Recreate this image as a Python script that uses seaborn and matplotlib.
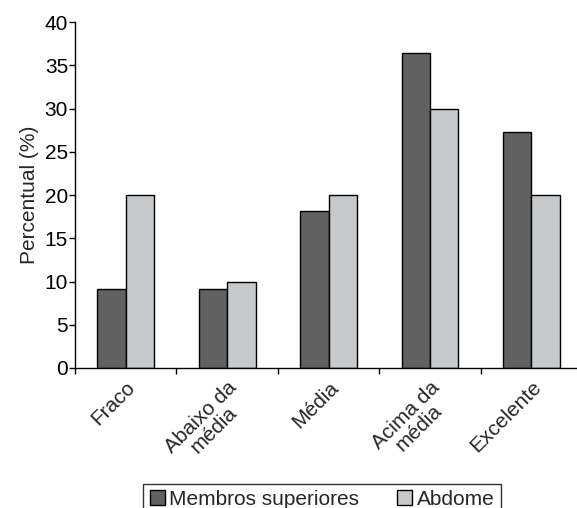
import pandas as pd
import matplotlib
matplotlib.use("Agg")
import matplotlib.pyplot as plt
import seaborn as sns

categorias = ["Fraco", "Abaixo da\nmédia", "Média", "Acima da\nmédia", "Excelente"]
membros_superiores = [9.1, 9.1, 18.2, 36.4, 27.3]
abdome = [20.0, 10.0, 20.0, 30.0, 20.0]
series = ["Membros superiores", "Abdome"]
cores = ["#616161", "#c8c9cb"]

df = pd.DataFrame({
    "Categoria": categorias * 2,
    "Grupo": [series[0]] * len(categorias) + [series[1]] * len(categorias),
    "Valor": membros_superiores + abdome,
})

sns.set_style("ticks")
plt.rcParams["font.family"] = ["Liberation Sans", "DejaVu Sans"]

fig = plt.figure(figsize=(5.77, 5.08), dpi=100)
ax = fig.add_axes([0.130, 0.2756, 0.879, 0.681])

sns.barplot(data=df, x="Categoria", y="Valor", hue="Grupo", order=categorias,
            hue_order=series, palette=cores, width=0.56, edgecolor="black",
            linewidth=1.0, saturation=1, ax=ax)

ax.set_xlim(-0.5, len(categorias) - 0.5)
ax.set_ylim(0, 40)
ax.set_yticks(range(0, 41, 5))
ax.tick_params(axis="y", labelsize=15, length=4, width=1, colors="black", pad=1)
ax.set_xticks(range(len(categorias)))
ax.set_xticklabels(categorias, rotation=45, ha="right", rotation_mode="anchor",
                   fontsize=15, multialignment="center", linespacing=0.95)
ax.tick_params(axis="x", which="major", length=0, pad=7)
ax.set_xticks([i - 0.5 for i in range(len(categorias) + 1)], minor=True)
ax.tick_params(axis="x", which="minor", length=4, width=1, colors="black")
ax.set_xlabel("")
ax.set_ylabel("Percentual (%)", fontsize=15, labelpad=4)
for s in ["top", "right"]:
    ax.spines[s].set_visible(False)
for s in ["left", "bottom"]:
    ax.spines[s].set_color("black")
    ax.spines[s].set_linewidth(1)

handles, labels = ax.get_legend_handles_labels()
ax.get_legend().remove()
leg = fig.legend(handles, labels, loc="upper center", bbox_to_anchor=(0.558, 0.068),
                 ncol=2, fontsize=15, frameon=True, fancybox=False, edgecolor="black",
                 handlelength=0.75, handleheight=0.75, handletextpad=0.2,
                 columnspacing=1.8, borderpad=0.3)
leg.get_frame().set_linewidth(1)

fig.savefig("out.png", dpi=100)
